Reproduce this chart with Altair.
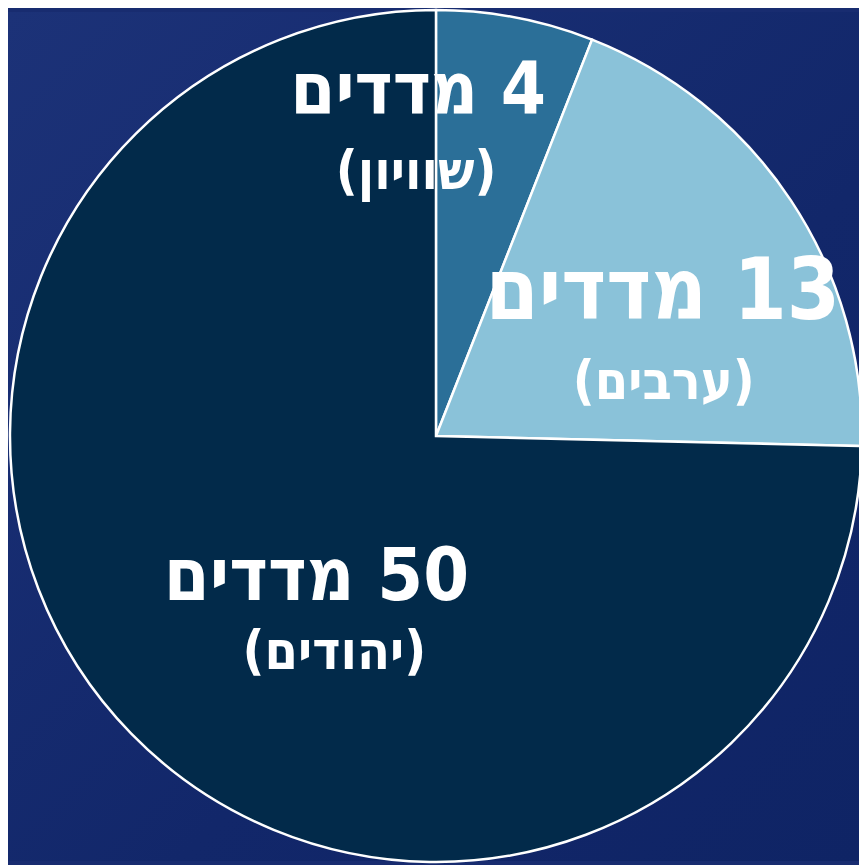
import altair as alt
import pandas as pd

RLE, PDF = "\u202b", "\u202c"

categories = ["שוויון", "ערבים", "יהודים"]
values = [4, 13, 50]
colors = ["#2b6f98", "#8ac2d9", "#022a4a"]
line1 = ["4 מדדים", "13 מדדים", "50 מדדים"]
line2 = ["(שוויון)", "(ערבים)", "(יהודים)"]

df = pd.DataFrame({
    "cat": categories,
    "value": values,
    "order": [0, 1, 2],
    "l1": [RLE + s + PDF for s in line1],
    "l2": [RLE + s + PDF for s in line2],
})

W, H = 859, 857
CX, CY = 432, 428
R = 430
LR = 300

theta = alt.Theta("value:Q", stack=True)
order = alt.Order("order:O")

bg = alt.Chart(df).mark_rect(
    fill=alt.Gradient(
        gradient="linear",
        stops=[alt.GradientStop(color="#1c3278", offset=0),
               alt.GradientStop(color="#12276a", offset=0.6),
               alt.GradientStop(color="#0f2465", offset=1)],
        x1=0, x2=1, y1=0, y2=1,
    )
).encode(x=alt.value(0), x2=alt.value(W), y=alt.value(0), y2=alt.value(H))

pie = alt.Chart(df).mark_arc(
    stroke="white", strokeWidth=2.5, radius=R
).encode(
    theta=theta,
    order=order,
    color=alt.Color("cat:N", scale=alt.Scale(domain=categories, range=colors), legend=None),
    x=alt.value(CX),
    y=alt.value(CY),
)

# label offsets (dx, dy, fontSize) relative to the slice's mid-angle point at radius LR
offs1 = {"שוויון": (-74, -52, 73), "ערבים": (-21, 22, 86), "יהודים": (94, -66, 74)}
offs2 = {"שוויון": (-76, 29, 54), "ערבים": (-20, 113, 54), "יהודים": (112, 10, 54)}

layers = [bg, pie]
for cat in categories:
    for field, offs in (("l1", offs1), ("l2", offs2)):
        dx, dy, fs = offs[cat]
        t = alt.Chart(df).mark_text(
            radius=LR, dx=dx, dy=dy, fontSize=fs, fontWeight="bold",
            font="DejaVu Sans Condensed", color="white", align="center", baseline="middle",
        ).encode(
            theta=theta,
            order=order,
            text=f"{field}:N",
            x=alt.value(CX),
            y=alt.value(CY),
            opacity=alt.condition(alt.datum.cat == cat, alt.value(1), alt.value(0)),
        )
        layers.append(t)

chart = alt.layer(*layers).properties(
    width=W, height=H, autosize=alt.AutoSizeParams(type="none"), padding=0,
    background="#182c70",
).configure_view(stroke=None)

chart.save("out.html", embed_options={"renderer": "svg", "actions": False})
